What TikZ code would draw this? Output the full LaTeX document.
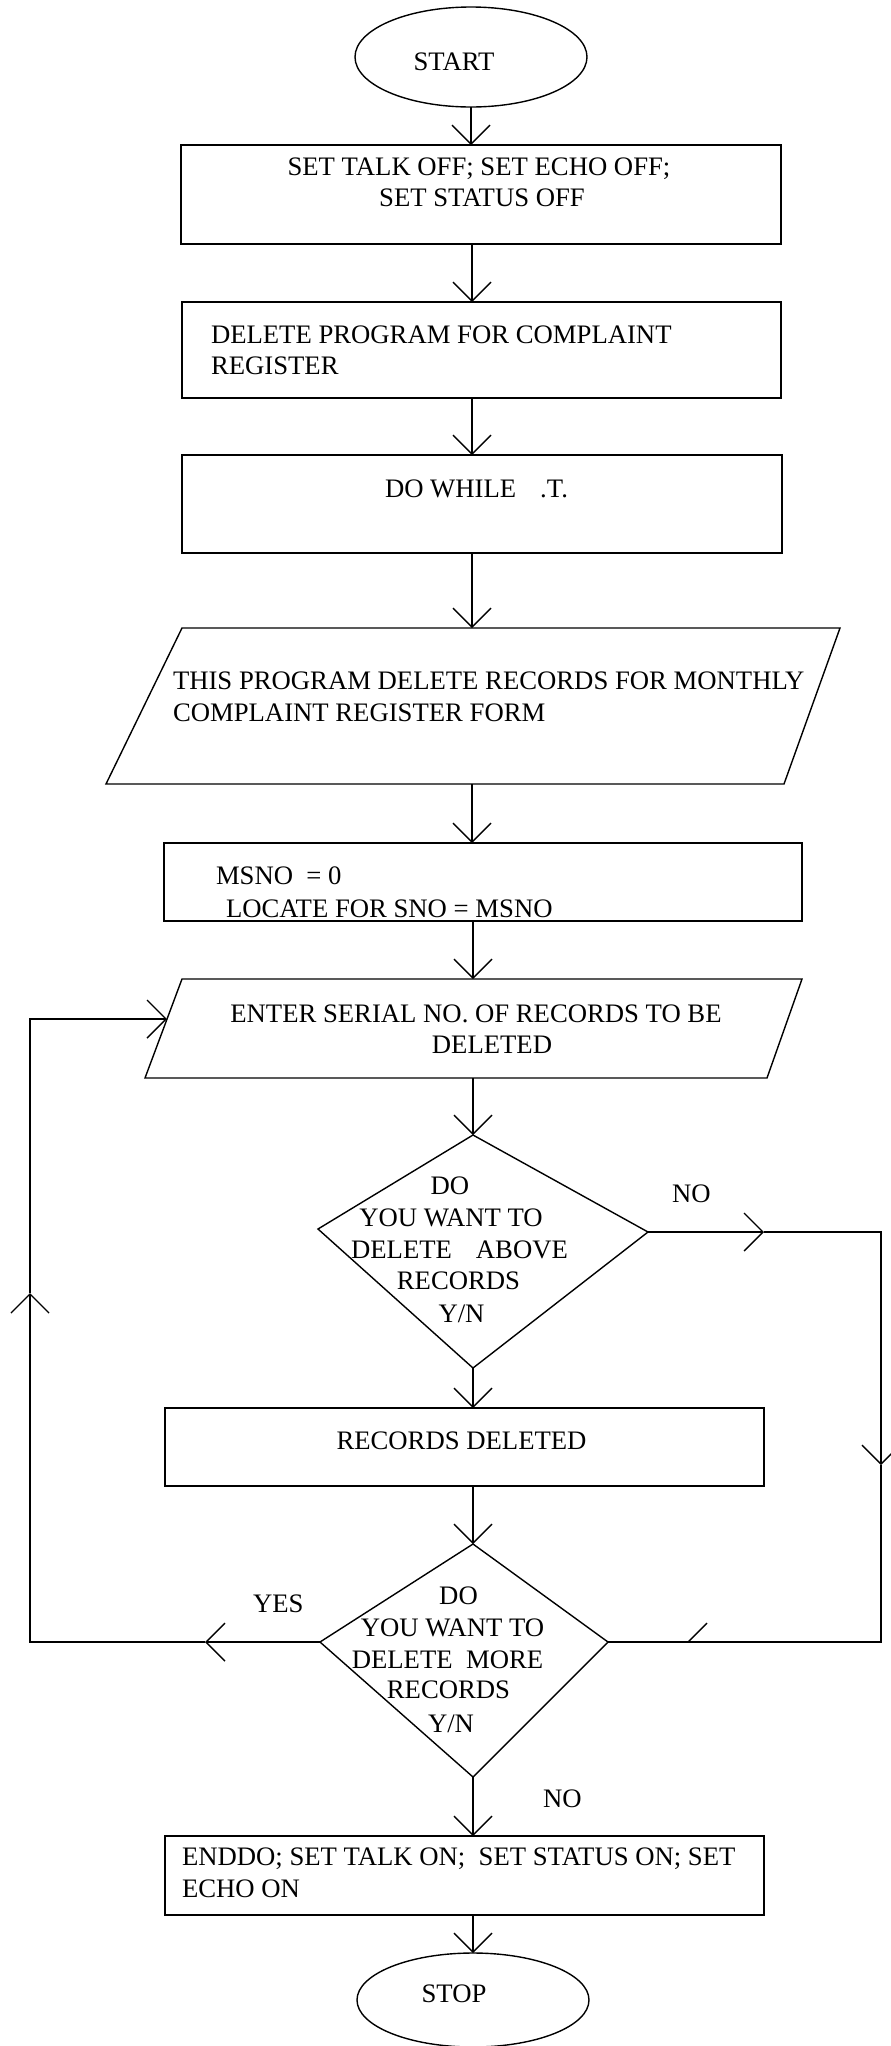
\documentclass[tikz,border=0pt]{standalone}
\usepackage{fontspec}
\setmainfont{Liberation Serif}
\usetikzlibrary{arrows.meta,shapes.geometric}
\begin{document}
\begin{tikzpicture}[x=1pt,y=-1pt,
  line width=1.4pt,
  every node/.style={font=\fontsize{26.7}{32}\selectfont, inner sep=0pt, outer sep=0pt},
  txt/.style={anchor=base},
  txtl/.style={anchor=base west},
  box/.style={draw, rectangle, anchor=north west},
  term/.style={draw, ellipse, minimum width=232pt},
  arr/.style={-{Straight Barb[length=19pt,width=38pt]}},
]
\useasboundingbox (0,0) rectangle (891,2046);

% vertical axis of the main flow
\coordinate (axis) at (472,0);

% terminals
\node[term, minimum height=100pt] (start) at (471,57) {};
\node[term, minimum height=94pt] (stop) at (473,2000) {};

% process boxes
\node[box, minimum width=600pt, minimum height=99pt] (b1) at (181,145) {};
\node[box, minimum width=599pt, minimum height=96pt] (b2) at (182,302) {};
\node[box, minimum width=600pt, minimum height=98pt] (b3) at (182,455) {};
\node[box, minimum width=638pt, minimum height=78pt] (b4) at (164,843) {};
\node[box, minimum width=599pt, minimum height=78pt] (b5) at (165,1408) {};
\node[box, minimum width=599pt, minimum height=79pt] (b6) at (165,1836) {};

% input/output parallelograms
\coordinate (p1a) at (182,628); \coordinate (p1b) at (840,628);
\coordinate (p1c) at (784,784); \coordinate (p1d) at (106,784);
\draw (p1a) -- (p1b) -- (p1c) -- (p1d) -- cycle;
\coordinate (p2a) at (182,979); \coordinate (p2b) at (802,979);
\coordinate (p2c) at (767,1078); \coordinate (p2d) at (145,1078);
\draw (p2a) -- (p2b) -- (p2c) -- (p2d) -- cycle;

% decisions
\coordinate (d1t) at (473,1135); \coordinate (d1r) at (648,1232);
\coordinate (d1b) at (473,1368); \coordinate (d1l) at (318,1229);
\draw (d1t) -- (d1r) -- (d1b) -- (d1l) -- cycle;
\coordinate (d2t) at (473,1544); \coordinate (d2r) at (608,1642);
\coordinate (d2b) at (473,1777); \coordinate (d2l) at (320,1642);
\draw (d2t) -- (d2r) -- (d2b) -- (d2l) -- cycle;

% texts
\node[txt] (tstart) at (454,70) {START};
\node[txt] (t1a) at (479,175) {SET TALK OFF; SET ECHO OFF;};
\node[txt] (t1b) at (482,206) {SET STATUS OFF};
\node[txtl] (t2a) at (211,343) {DELETE PROGRAM FOR COMPLAINT};
\node[txtl] (t2b) at (211,374) {REGISTER};
\node[txtl] (t3) at (385,497) {DO WHILE\hspace{24pt}.T.};
\node[txtl] (tp1a) at (173,689) {THIS PROGRAM DELETE RECORDS FOR MONTHLY};
\node[txtl] (tp1b) at (173,721) {COMPLAINT REGISTER FORM};
\node[txtl] (t4a) at (216,884) {MSNO~~=~0};
\node[txtl] (t4b) at (226,917) {LOCATE FOR SNO = MSNO};
\node[txt] (tp2a) at (476,1022) {ENTER SERIAL NO. OF RECORDS TO BE};
\node[txt] (tp2b) at (492,1053) {DELETED};
\node[txt] (td1a) at (450,1194) {DO};
\node[txt] (td1b) at (451,1226) {YOU WANT TO};
\node[txt] (td1c) at (459.5,1258) {DELETE\hspace{24pt}ABOVE};
\node[txt] (td1d) at (458.5,1289) {RECORDS};
\node[txt] (td1e) at (461.5,1322) {Y/N};
\node[txtl] (tno1) at (672,1202) {NO};
\node[txt] (t5) at (461.5,1449) {RECORDS DELETED};
\node[txt] (td2a) at (458.5,1604) {DO};
\node[txt] (td2b) at (452.5,1636) {YOU WANT TO};
\node[txt] (td2c) at (447.5,1668) {DELETE~~MORE};
\node[txt] (td2d) at (448.5,1698) {RECORDS};
\node[txt] (td2e) at (451,1732) {Y/N};
\node[txtl] (tyes) at (253,1612) {YES};
\node[txtl] (tno2) at (543,1807) {NO};
\node[txtl] (t6a) at (182,1865) {ENDDO; SET TALK ON;~~SET STATUS ON; SET};
\node[txtl] (t6b) at (182,1897) {ECHO ON};
\node[txt] (tstop) at (454,2002) {STOP};

% main flow connectors
\draw[arr] (start.south) -- (start.south |- b1.north);
\draw[arr] (axis |- b1.south) -- (axis |- b2.north);
\draw[arr] (axis |- b2.south) -- (axis |- b3.north);
\draw[arr] (axis |- b3.south) -- (axis |- p1a);
\draw[arr] (axis |- p1d) -- (axis |- b4.north);
\draw[arr] (d1t |- b4.south) -- (d1t |- p2a);
\draw[arr] (d1t |- p2d) -- (d1t);
\draw[arr] (d1b) -- (d1b |- b5.north);
\draw[arr] (d1b |- b5.south) -- (d2t);
\draw[arr] (d2b) -- (d2b |- b6.north);
\draw[arr] (d2b |- b6.south) -- (stop.north);

% NO branch of the first decision
\coordinate (noTip) at (764,1232);
\coordinate (noCorner) at (881,1232);
\coordinate (downTip) at (881,1465);
\coordinate (noCorner2) at (881,1642);
\coordinate (tick) at (688,1642);
\draw[arr] (d1r) -- (noTip);
\draw[arr] (noTip) -- (noCorner) -- (downTip);
\draw (downTip) -- (noCorner2) -- (d2r);
\draw (tick) -- ++(19,-19);

% YES loop back to the input
\coordinate (yesTip) at (205,1642);
\coordinate (yesCorner) at (30,1642);
\coordinate (upTip) at (30,1293);
\coordinate (loopCorner) at (30,1019);
\coordinate (p2in) at (167,1019);
\draw[arr] (d2l) -- (yesTip);
\draw[arr] (yesTip) -- (yesCorner) -- (upTip);
\draw[arr] (upTip) -- (loopCorner) -- (p2in);
\end{tikzpicture}
\end{document}
